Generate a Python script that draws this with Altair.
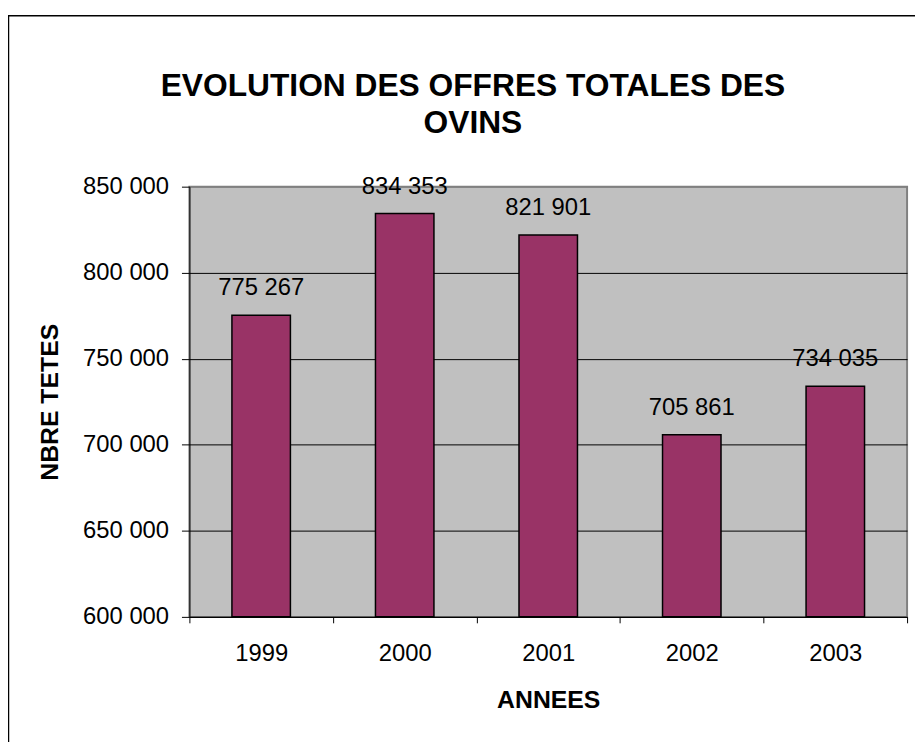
import altair as alt
import pandas as pd

years = ["1999", "2000", "2001", "2002", "2003"]
values = [775267, 834353, 821901, 705861, 734035]
title_lines = ["EVOLUTION DES OFFRES TOTALES DES", "OVINS"]
y_ticks = [600000, 650000, 700000, 750000, 800000, 850000]

FONT = "Liberation Sans"
W, H = 724, 434

df = pd.DataFrame({"annee": years, "tetes": values})

fmt = "replace(format(datum.value, ','), ',', ' ')"

x_enc = alt.X(
    "annee:N",
    sort=years,
    scale=alt.Scale(paddingInner=0, paddingOuter=0),
    axis=alt.Axis(
        title="ANNEES",
        labelAngle=0,
        tickBand="extent",
        tickSize=6,
        tickColor="black",
        domainColor="black",
        labelFont=FONT,
        labelFontSize=24,
        labelColor="black",
        labelBaseline="middle",
        labelPadding=31,
        titleFont=FONT,
        titleFontSize=25,
        titleFontWeight="bold",
        titleColor="black",
        titleX=W / 2,
        titleY=83,
        titleBaseline="middle",
        grid=False,
    ),
)

y_enc = alt.Y(
    "tetes:Q",
    scale=alt.Scale(domain=[600000, 850000], nice=False, zero=False),
    axis=alt.Axis(
        title="NBRE TETES",
        values=y_ticks,
        labelExpr=fmt,
        tickSize=8,
        tickColor="black",
        domainColor="black",
        labelFont=FONT,
        labelFontSize=24,
        labelColor="black",
        labelPadding=13,
        titleFont=FONT,
        titleFontSize=25,
        titleFontWeight="bold",
        titleColor="black",
        titleAngle=-90,
        titleX=-141,
        titleY=H / 2,
        titleAlign="center",
        titleBaseline="middle",
        grid=True,
        gridColor=alt.condition("datum.value == 850000", alt.value("#808080"), alt.value("black")),
        gridWidth=1,
    ),
)

bars = alt.Chart(df).mark_bar(
    size=59, color="#993366", stroke="black", strokeWidth=1.5
).encode(x=x_enc, y=y_enc, y2=alt.datum(600000))

labels = alt.Chart(df).transform_calculate(
    lab="replace(format(datum.tetes, ','), ',', ' ')"
).mark_text(
    font=FONT, fontSize=24, color="black", baseline="alphabetic", dy=-20
).encode(x=alt.X("annee:N", sort=years), y="tetes:Q", text="lab:N")

title_df = pd.DataFrame({"line": title_lines, "ypos": [-101, -64]})
title = alt.Chart(title_df).mark_text(
    font=FONT, fontSize=32, fontWeight="bold", color="black", baseline="middle", align="center"
).encode(x=alt.value(286), y=alt.Y("ypos:Q", scale=None), text="line:N")

border = alt.Chart(pd.DataFrame({"a": [0]})).mark_rect(
    fillOpacity=0, stroke="black", strokeWidth=1.5
).encode(x=alt.value(-182.5), x2=alt.value(760), y=alt.value(-172.5), y2=alt.value(700))

chart = alt.layer(bars, labels, title, border).properties(
    width=W,
    height=H,
    autosize=alt.AutoSizeParams(type="none"),
    padding={"left": 183, "top": 177, "right": 8, "bottom": 123},
    background="white",
).configure_view(
    fill="#C0C0C0", stroke="#808080", strokeWidth=2
)

chart.save("out.html", embed_options={"renderer": "svg", "actions": False})
